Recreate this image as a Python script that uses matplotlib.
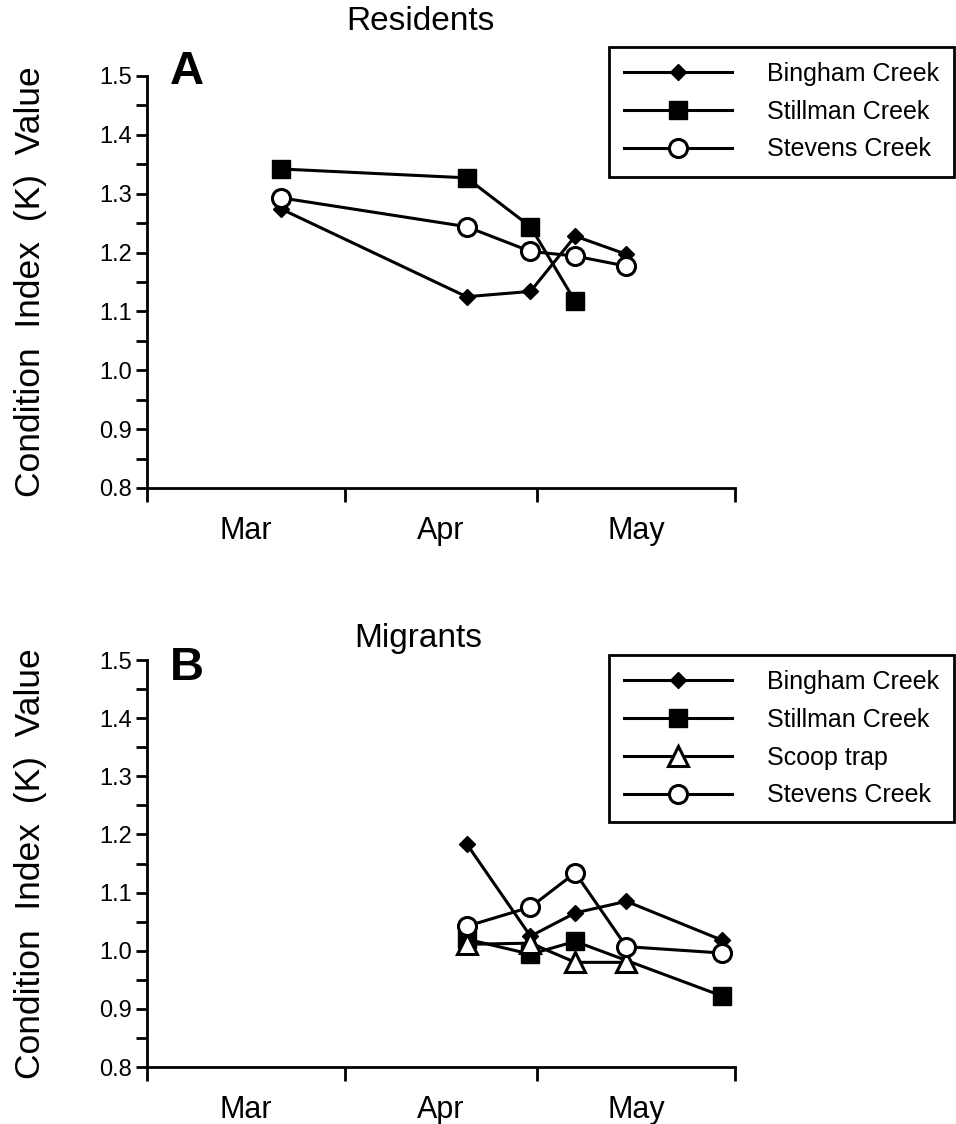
"""Condition index (K) of residents and migrants by sampling date, two panels."""
import matplotlib
matplotlib.use("Agg")
import matplotlib.pyplot as plt

plt.rcParams["font.family"] = ["Liberation Sans", "DejaVu Sans"]

# x positions are days since 1 March
month_starts = [0, 31, 61, 92]
month_mids = [15.5, 46, 76.5]
month_names = ["Mar", "Apr", "May"]

# Panel A: residents
res_bingham_day = [21, 50, 60, 67, 75]
res_bingham_k = [1.274, 1.125, 1.134, 1.228, 1.197]
res_stillman_day = [21, 50, 60, 67]
res_stillman_k = [1.342, 1.327, 1.244, 1.117]
res_stevens_day = [21, 50, 60, 67, 75]
res_stevens_k = [1.293, 1.244, 1.202, 1.194, 1.177]

# Panel B: migrants
mig_bingham_day = [50, 60, 67, 75, 90]
mig_bingham_k = [1.184, 1.025, 1.065, 1.085, 1.018]
mig_stillman_day = [50, 60, 67, 90]
mig_stillman_k = [1.020, 0.994, 1.016, 0.922]
mig_scoop_day = [50, 60, 67, 75]
mig_scoop_k = [1.011, 1.013, 0.980, 0.980]
mig_stevens_day = [50, 60, 67, 75, 90]
mig_stevens_k = [1.042, 1.075, 1.134, 1.007, 0.996]

STYLE = {
    "Bingham Creek": dict(marker="D", ms=8.5, mfc="black", mec="black", mew=1),
    "Stillman Creek": dict(marker="s", ms=13, mfc="black", mec="black", mew=1),
    "Scoop trap": dict(marker="^", ms=14, mfc="white", mec="black", mew=2.2),
    "Stevens Creek": dict(marker="o", ms=13, mfc="white", mec="black", mew=2.2),
}

W, H = 956, 1124
fig = plt.figure(figsize=(W / 100, H / 100), dpi=100)
ax_a = fig.add_axes([147 / W, 1 - 488 / H, 588 / W, 412 / H])
ax_b = fig.add_axes([147 / W, 1 - 1067 / H, 588 / W, 407 / H])


def draw(ax, series, letter, letter_y):
    for name, days, k in series:
        ax.plot(days, k, color="black", lw=2.2, label=name, clip_on=False,
                **STYLE[name])
    ax.set_xlim(0, 92)
    ax.set_ylim(0.8, 1.5)
    for side in ["top", "right"]:
        ax.spines[side].set_visible(False)
    for side in ["left", "bottom"]:
        ax.spines[side].set_linewidth(2.0)
    ax.set_yticks([0.8, 0.9, 1.0, 1.1, 1.2, 1.3, 1.4, 1.5])
    ax.set_yticks([0.85, 0.95, 1.05, 1.15, 1.25, 1.35, 1.45], minor=True)
    ax.tick_params(axis="y", which="both", direction="out", length=8,
                   width=2.0, labelsize=17, pad=3)
    ax.set_xticks(month_starts, [])
    ax.set_xticks(month_mids, month_names, minor=True)
    ax.tick_params(axis="x", which="major", direction="out", length=10,
                   width=2.0)
    ax.tick_params(axis="x", which="minor", length=0, labelsize=22, pad=20)
    ax.set_ylabel("Condition  Index  (K)  Value", fontsize=25.5)
    ax.yaxis.set_label_coords(-0.17, 0.5)
    ax.text(0.068, letter_y, letter, transform=ax.transAxes, fontsize=34,
            fontweight="bold", ha="center", va="center")


draw(ax_a, [("Bingham Creek", res_bingham_day, res_bingham_k),
            ("Stillman Creek", res_stillman_day, res_stillman_k),
            ("Stevens Creek", res_stevens_day, res_stevens_k)], "A", 1.01)
draw(ax_b, [("Bingham Creek", mig_bingham_day, mig_bingham_k),
            ("Stillman Creek", mig_stillman_day, mig_stillman_k),
            ("Scoop trap", mig_scoop_day, mig_scoop_k),
            ("Stevens Creek", mig_stevens_day, mig_stevens_k)], "B", 0.98)

fig.text(420 / W, 1 - 22 / H, "Residents", fontsize=24, ha="center",
         va="center")
fig.text(418 / W, 1 - 638 / H, "Migrants", fontsize=24, ha="center",
         va="center")

for ax, top in [(ax_a, 47), (ax_b, 655)]:
    leg = ax.legend(loc="upper right", bbox_to_anchor=(954 / W, 1 - top / H),
                    bbox_transform=fig.transFigure, fontsize=18,
                    frameon=True, fancybox=False, framealpha=1,
                    edgecolor="black", handlelength=4.3, handletextpad=1.4,
                    borderpad=0.6, labelspacing=0.55, borderaxespad=0)
    leg.get_frame().set_linewidth(2.0)

fig.savefig("out.png", dpi=100)
